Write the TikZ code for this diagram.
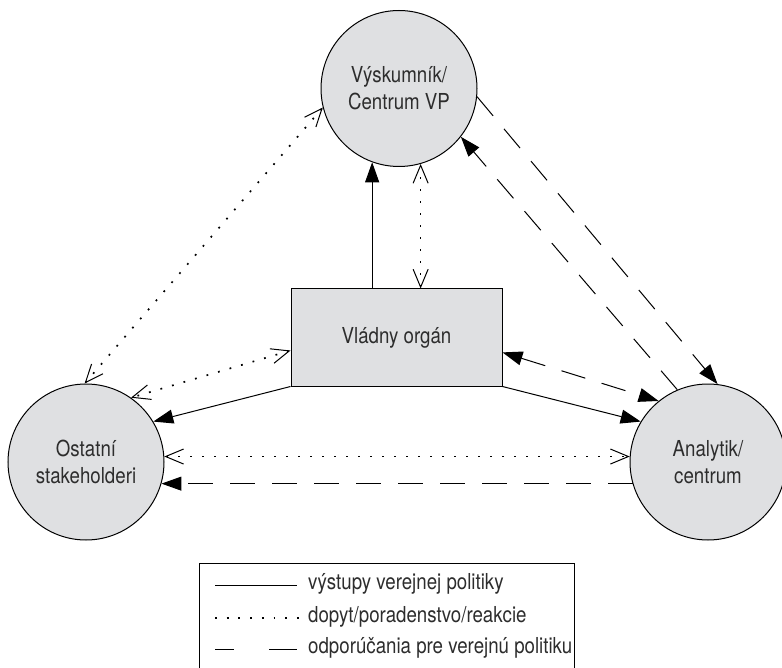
\documentclass[tikz,border=0pt]{standalone}
\usepackage{fontspec}
\setmainfont{TeX Gyre Heros}
\newfontfamily\condfont[FakeStretch=0.85]{TeX Gyre Heros}
\usetikzlibrary{arrows.meta}
\definecolor{nodefill}{RGB}{223,224,226}
\definecolor{txt}{RGB}{45,45,45}
\begin{document}
\begin{tikzpicture}[x=1pt,y=-1pt,
  lbl/.style={font=\condfont\fontsize{22}{27}\selectfont, text=txt},
  actor/.style={lbl, circle, draw, line width=1pt, fill=nodefill, minimum size=156pt,
    inner sep=0pt, align=center},
  govbox/.style={lbl, rectangle, draw, line width=1pt, fill=nodefill, minimum width=211pt,
    minimum height=97pt, inner sep=0pt},
  legtext/.style={lbl, anchor=west, inner sep=0pt},
  outflow/.style={line width=1pt, -{Triangle[length=20pt,width=14pt]}},
  advice/.style={line width=1.7pt, dash pattern=on 1.8pt off 10.2pt,
    {Straight Barb[length=18pt,width=15pt,line width=1pt]}-{Straight Barb[length=18pt,width=15pt,line width=1pt]}},
  recom/.style={line width=1pt, dash pattern=on 25pt off 17pt},
  recomarrow/.style={recom, -{Triangle[length=20pt,width=14pt]}},
  recomboth/.style={recom, {Triangle[length=20pt,width=14pt]}-{Triangle[length=20pt,width=14pt]}}
]
\useasboundingbox (0,0) rectangle (782,668);

\node[actor] (res) at (399,88.5) {Výskumník/\\Centrum VP};
\node[actor] (oth) at (86,462) {Ostatní\\stakeholderi};
\node[actor] (ana) at (708,462) {Analytik/\\centrum};
\node[govbox] (gov) at (396.5,337.5) {Vládny orgán};

% outputs
\draw[outflow] (res.250 |- gov.north) -- (res.250);
\draw[outflow] (gov.south west) -- (oth.31);
\draw[outflow] (gov.south east) -- (ana.149);

% demand / advice / reactions
\draw[advice] (res.286 |- gov.north) -- (res.286);
\draw[advice] (res.194) -- (oth.91);
\draw[advice] (gov.187) -- (oth.55);
\draw[advice] (oth.4) -- (ana.176);

% recommendations
\draw[recomarrow] (res.354) -- (ana.83);
\draw[recomarrow] (ana.113) -- (res.322);
\draw[recomboth] (gov.352) -- (ana.129);
\draw[recomarrow] (ana.196) -- (oth.344);

% legend
\draw[line width=1pt] (199,668) -- (199,563) -- (574,563) -- (574,668);
\coordinate (l1a) at (215,585); \coordinate (l1b) at (297,585);
\coordinate (l2a) at (215,618); \coordinate (l2b) at (300,618);
\coordinate (l3a) at (215,649); \coordinate (l3b) at (234,649);
\coordinate (l3c) at (269,649); \coordinate (l3d) at (297,649);
\draw[line width=1pt] (l1a) -- (l1b);
\draw[line width=1.7pt, dash pattern=on 1.8pt off 9.9pt] (l2a) -- (l2b);
\draw[line width=1pt] (l3a) -- (l3b);
\draw[line width=1pt] (l3c) -- (l3d);
\node[legtext] (t1) at (308,584) {výstupy verejnej politiky};
\node[legtext] (t2) at (308,617) {dopyt/poradenstvo/reakcie};
\node[legtext] (t3) at (308,648) {odporúčania pre verejnú politiku};
\end{tikzpicture}
\end{document}
